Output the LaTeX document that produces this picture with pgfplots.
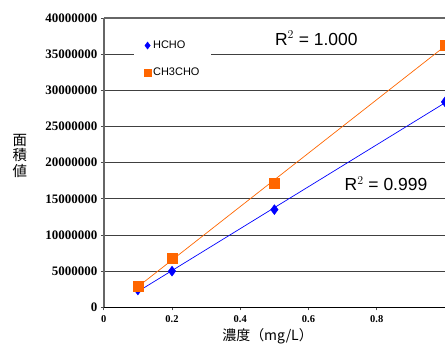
\documentclass[border=0pt]{standalone}
\usepackage{fontspec}
\setmainfont{Liberation Serif}
\newfontfamily\cjk{Noto Sans CJK JP}
\newfontfamily\arial{Liberation Sans}
\usepackage{pgfplots}
\pgfplotsset{compat=1.18}
\definecolor{hblue}{RGB}{0,0,255}
\definecolor{corange}{RGB}{255,102,0}
\begin{document}
\begin{tikzpicture}
\begin{axis}[
  scale only axis,
  width=342bp, height=290bp,
  xmin=0, xmax=1.0, ymin=0, ymax=40000000,
  clip=true,
  scaled y ticks=false,
  scaled x ticks=false,
  axis x line*=bottom,
  axis y line*=left,
  x axis line style={black, line width=1.2pt, -},
  y axis line style={black!60, line width=1.5pt, -},
  xtick={0,0.2,0.4,0.6,0.8},
  xticklabels={0,0.2,0.4,0.6,0.8},
  ytick={0,5000000,10000000,15000000,20000000,25000000,30000000,35000000,40000000},
  yticklabels={0,5000000,10000000,15000000,20000000,25000000,30000000,35000000,40000000},
  xticklabel style={font=\fontsize{10.5bp}{12bp}\selectfont\bfseries, yshift=-2bp},
  yticklabel style={font=\fontsize{13bp}{14bp}\selectfont\bfseries},
  tick align=outside,
  major tick length=3bp,
  tick style={black!70, line width=0.8pt},
  ymajorgrids,
  grid style={black!75, line width=0.9pt},
  xlabel={\cjk 濃度（mg/L）},
  xlabel style={font=\fontsize{14bp}{16bp}\selectfont, at={(axis description cs:0.48,0)}, anchor=north, yshift=-18bp},
  legend style={at={(axis description cs:0.088,0.966)}, anchor=north west, draw=none, fill=white,
    font=\arial\fontsize{11bp}{13bp}\selectfont, row sep=14bp, inner xsep=10bp, inner ysep=11bp},
  legend cell align=left,
  legend image code/.code={\draw[#1, mark size=3.6bp] plot coordinates {(0.12cm,0cm)};},
]
% trendlines
\addplot[hblue, line width=0.7pt, forget plot] coordinates {(0.1,2180000) (1.0,28270000)};
\addplot[corange, line width=0.7pt, forget plot] coordinates {(0.1,2840000) (1.0,36100000)};
% data
\addplot[only marks, mark=diamond*, mark size=5bp, color=hblue] coordinates {
  (0.1,2400000) (0.2,5000000) (0.5,13500000) (1.0,28400000)};
\addlegendentry{HCHO}
\addplot[only marks, mark=square*, mark size=5bp, color=corange] coordinates {
  (0.1,2900000) (0.2,6800000) (0.5,17100000) (1.0,36300000)};
\addlegendentry{CH3CHO}
\draw[black!60, line width=1.2pt] (axis cs:0,40000000) -- (axis cs:1.0,40000000);
\node[font=\arial\fontsize{17.5bp}{19bp}\selectfont] at (axis cs:0.623,37200000) {R$^{2}$ = 1.000};
\node[font=\arial\fontsize{17.5bp}{19bp}\selectfont] at (axis cs:0.827,17100000) {R$^{2}$ = 0.999};
\end{axis}
\node[font=\cjk\fontsize{14.5bp}{15.5bp}\selectfont, align=center, inner sep=0pt] at ([xshift=-84bp, yshift=7bp]current axis.west) {面\\積\\値};
\pgfresetboundingbox
\path ([shift={(-104bp,-45bp)}]current axis.south west) rectangle ([shift={(0bp,18bp)}]current axis.north east);
\end{tikzpicture}
\end{document}
